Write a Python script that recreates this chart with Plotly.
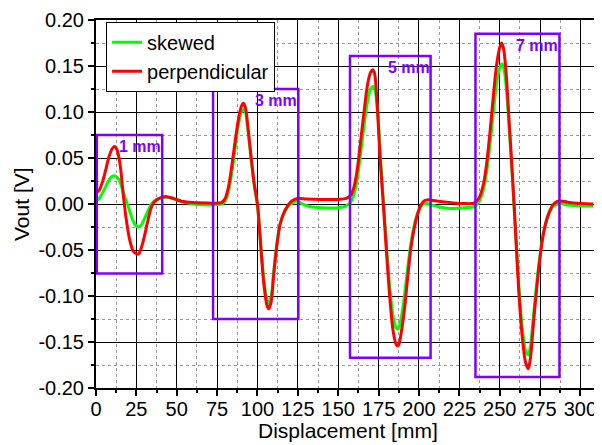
import plotly.graph_objects as go

# ---- data ----
perp_x = [0, 2, 4, 6, 8, 10, 11.5, 13, 15, 17, 19, 21, 23, 25, 26.5, 28, 30, 32, 34, 36, 38, 41, 44, 48, 53, 60, 70, 76,
          78, 80, 82, 84, 86, 88, 90, 91.2, 92.5, 94, 96, 98, 100, 102, 104, 106, 107, 108.5, 110, 112, 114, 117, 120, 123, 126, 130, 140, 150,
          155, 158, 160, 162, 164, 166, 168, 170, 171.3, 172.5, 174, 176, 178, 180, 182, 184, 186, 187.2, 189, 191, 193, 195, 197, 199, 201, 203, 205, 208, 212, 220, 228,
          234, 237, 240, 242, 244, 246, 248, 250, 251.2, 252.5, 254, 256, 258, 260, 262, 264, 266, 267.7, 269, 271, 273, 275, 277, 280, 283, 286, 288, 292, 300, 308]
perp_y = [0.012, 0.015, 0.024, 0.037, 0.051, 0.060, 0.0626, 0.059, 0.042, 0.008, -0.020, -0.040, -0.051, -0.054, -0.054, -0.048, -0.035, -0.019, -0.005, 0.002, 0.005, 0.0075, 0.008, 0.006, 0.003, 0.0015, 0.001, 0.001,
          0.002, 0.006, 0.018, 0.040, 0.066, 0.090, 0.106, 0.1095, 0.105, 0.085, 0.052, 0.022, 0.000, -0.045, -0.088, -0.111, -0.114, -0.106, -0.078, -0.045, -0.022, -0.007, 0.001, 0.005, 0.006, 0.0055, 0.005, 0.005,
          0.006, 0.010, 0.020, 0.040, 0.070, 0.100, 0.128, 0.143, 0.146, 0.142, 0.112, 0.048, -0.002, -0.055, -0.103, -0.138, -0.153, -0.154, -0.140, -0.115, -0.080, -0.048, -0.027, -0.012, -0.002, 0.003, 0.0045, 0.004, 0.003, 0.0015, 0.0005,
          0.001, 0.006, 0.022, 0.045, 0.078, 0.116, 0.150, 0.170, 0.175, 0.168, 0.142, 0.085, 0.028, -0.036, -0.100, -0.145, -0.172, -0.179, -0.168, -0.128, -0.090, -0.058, -0.033, -0.012, -0.001, 0.003, 0.0033, 0.002, 0.0005, 0.000]

skew_x = [0, 2, 4, 6, 8, 10, 11.8, 14, 16, 18, 20, 22, 24, 26, 28, 30, 32, 34, 36, 39, 42, 45, 49, 54, 60, 70, 76,
          78, 80, 82, 84, 86, 88, 90, 91.4, 92.7, 94, 96, 98, 100, 102, 104, 106, 107, 108.5, 110, 112, 114, 117, 120, 124, 128, 133, 140, 150,
          155, 158, 160, 162, 164, 166, 168, 170, 171.7, 173, 174.5, 176, 178, 180, 182, 184, 186, 187.2, 189, 191, 193, 195, 197, 199, 201, 203, 205, 208, 212, 220, 228,
          234, 237, 240, 242, 244, 246, 248, 250, 251.5, 253, 254.5, 256, 258, 260, 262, 264, 266, 267.7, 269, 271, 273, 275, 277, 280, 283, 286, 288, 292, 300, 308]
skew_y = [0.003, 0.006, 0.012, 0.019, 0.026, 0.030, 0.0306, 0.027, 0.018, 0.007, -0.003, -0.014, -0.022, -0.025, -0.023, -0.016, -0.008, -0.001, 0.003, 0.006, 0.007, 0.0072, 0.005, 0.002, 0.000, -0.001, -0.0005,
          0.000, 0.003, 0.013, 0.033, 0.058, 0.084, 0.100, 0.103, 0.099, 0.082, 0.050, 0.020, -0.002, -0.043, -0.083, -0.104, -0.108, -0.101, -0.075, -0.044, -0.022, -0.008, -0.001, 0.003, 0.000, -0.003, -0.004, -0.004,
          -0.002, 0.003, 0.012, 0.030, 0.057, 0.085, 0.110, 0.125, 0.1277, 0.122, 0.098, 0.055, 0.003, -0.048, -0.092, -0.122, -0.135, -0.1357, -0.124, -0.100, -0.070, -0.043, -0.024, -0.011, -0.003, 0.000, 0.0005, -0.001, -0.003, -0.005, -0.004,
          -0.003, 0.002, 0.016, 0.036, 0.065, 0.098, 0.130, 0.148, 0.1525, 0.143, 0.118, 0.080, 0.025, -0.035, -0.093, -0.135, -0.159, -0.164, -0.155, -0.120, -0.085, -0.055, -0.032, -0.013, -0.003, 0.000, 0.0003, -0.001, -0.002, -0.002]

x_ticks = [0, 25, 50, 75, 100, 125, 150, 175, 200, 225, 250, 275, 300]
x_ticklabels = ["0", "25", "50", "75", "100", "125", "150", "175", "200", "225", "250", "275", "300"]
y_ticks = [-0.20, -0.15, -0.10, -0.05, 0.00, 0.05, 0.10, 0.15, 0.20]
y_ticklabels = ["-0.20", "-0.15", "-0.10", "-0.05", "0.00", "0.05", "0.10", "0.15", "0.20"]

box_labels = ["1 mm", "3 mm", "5 mm", "7 mm"]
box_x0 = [0.5, 72.5, 157.3, 235]
box_x1 = [41, 125.3, 207.2, 287]
box_y0 = [-0.0755, -0.125, -0.167, -0.188]
box_y1 = [0.075, 0.125, 0.161, 0.185]

FONT = "Liberation Sans, Arial, sans-serif"
PURPLE = "#8000ff"

fig = go.Figure()
fig.add_trace(go.Scatter(x=skew_x, y=skew_y, mode="lines", name="skewed",
                         line=dict(color="#00ff00", width=3, shape="spline", smoothing=0.8)))
fig.add_trace(go.Scatter(x=perp_x, y=perp_y, mode="lines", name="perpendicular",
                         line=dict(color="#ff0000", width=3, shape="spline", smoothing=0.8)))

for lab, x0, x1, y0, y1 in zip(box_labels, box_x0, box_x1, box_y0, box_y1):
    fig.add_shape(type="rect", x0=x0, x1=x1, y0=y0, y1=y1, xref="x", yref="y",
                  line=dict(color=PURPLE, width=2.5), layer="above")
    fig.add_annotation(x=x1, y=y1, xref="x", yref="y", text=lab, showarrow=False,
                       xanchor="right", yanchor="top", yshift=-1, xshift=1,
                       font=dict(family=FONT, size=16, color=PURPLE, weight="bold"))

# axis titles
fig.add_annotation(x=0.5, y=0, xref="paper", yref="paper", text="Displacement [mm]", showarrow=False,
                   xanchor="center", yanchor="middle", yshift=-42,
                   font=dict(family=FONT, size=21, color="black"))
fig.add_annotation(x=0, y=0.5, xref="paper", yref="paper", text="Vout [V]", showarrow=False,
                   xanchor="center", yanchor="middle", xshift=-75, textangle=-90,
                   font=dict(family=FONT, size=21, color="black"))

axis_common = dict(showline=True, linecolor="black", linewidth=2, mirror=True,
                   ticks="outside", ticklen=6, tickwidth=1.5, tickcolor="black",
                   showgrid=True, gridcolor="black", gridwidth=1, zeroline=False,
                   automargin=False,
                   tickfont=dict(family=FONT, size=20, color="black"))

fig.update_xaxes(range=[0, 311.5], tickmode="array", tickvals=x_ticks, ticktext=x_ticklabels,
                 ticklabelstandoff=-4,
                 minor=dict(tick0=0, dtick=12.5, ticks="outside", ticklen=3, tickcolor="black",
                            showgrid=True, gridcolor="#999999", griddash="dot", gridwidth=1),
                 **axis_common)
fig.update_yaxes(range=[-0.2, 0.2], tickmode="array", tickvals=y_ticks, ticktext=y_ticklabels,
                 minor=dict(tick0=0, dtick=0.025, ticks="outside", ticklen=3, tickcolor="black",
                            showgrid=True, gridcolor="#999999", griddash="dot", gridwidth=1),
                 **axis_common)

# the page body has an 8px margin, so the figure is sized 8px smaller
fig.update_layout(
    width=594, height=437,
    margin=dict(l=88, r=3, t=12, b=57),
    paper_bgcolor="white", plot_bgcolor="white",
    font=dict(family=FONT, color="black"),
    legend=dict(x=0.02, y=0.995, xanchor="left", yanchor="top",
                bgcolor="white", bordercolor="black", borderwidth=1,
                font=dict(family=FONT, size=20, color="black"),
                itemwidth=30, tracegroupgap=0),
)

fig.write_html("out.html")
